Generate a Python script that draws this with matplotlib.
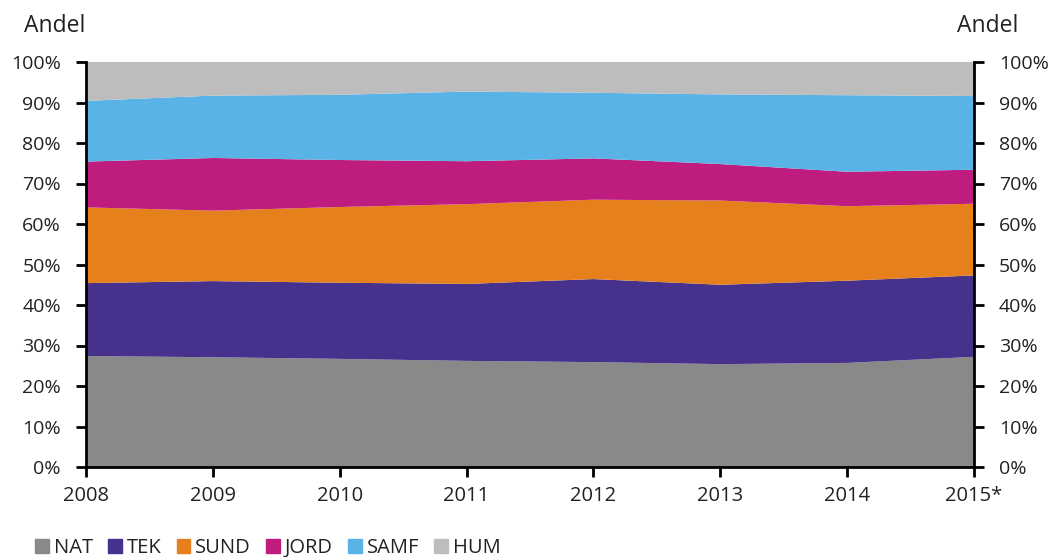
import numpy as np
import matplotlib
matplotlib.use("Agg")
import matplotlib.pyplot as plt
from matplotlib.patches import Patch
from matplotlib.ticker import PercentFormatter

years = ["2008", "2009", "2010", "2011", "2012", "2013", "2014", "2015*"]
fields = ["NAT", "TEK", "SUND", "JORD", "SAMF", "HUM"]

# shares in percent
nat = [27.4, 27.1, 26.7, 26.2, 25.9, 25.4, 25.7, 27.2]
tek = [18.0, 18.8, 18.8, 19.0, 20.5, 19.6, 20.3, 20.1]
sund = [18.7, 17.4, 18.7, 19.7, 19.6, 20.8, 18.4, 17.7]
jord = [11.3, 13.0, 11.6, 10.6, 10.2, 9.0, 8.5, 8.4]
samf = [15.0, 15.4, 16.1, 17.2, 16.2, 17.2, 18.9, 18.2]
hum = [9.6, 8.3, 8.1, 7.3, 7.6, 8.0, 8.2, 8.4]

colors = ["#898989", "#46328c", "#e5801c", "#be1c7e", "#5ab3e6", "#bdbdbd"]
txt = "#222222"

fig = plt.figure(figsize=(10.51, 5.57), dpi=100)
ax = fig.add_axes([86 / 1051, 1 - 467 / 557, (974 - 86) / 1051, (467 - 62) / 557])

x = np.arange(len(years))
ax.stackplot(x, nat, tek, sund, jord, samf, hum, colors=colors, linewidth=0)

ax.set_xlim(0, len(years) - 1)
ax.set_ylim(0, 100)
ax.set_xticks(x)
ax.set_xticklabels(years, fontsize=14.5, family="Open Sans")
ax.set_yticks(np.arange(0, 101, 10))
ax.yaxis.set_major_formatter(PercentFormatter(decimals=0))
for lab in ax.get_yticklabels():
    lab.set_family("Open Sans")
    lab.set_fontsize(14)

ax.spines["top"].set_visible(False)
ax.spines["right"].set_visible(False)
for s in ["left", "bottom"]:
    ax.spines[s].set_linewidth(2)
ax.tick_params(axis="both", width=2, length=7, colors="black", labelcolor=txt)
ax.tick_params(axis="x", pad=7)
ax.tick_params(axis="y", pad=11)

ax2 = ax.twinx()
ax2.set_ylim(0, 100)
ax2.set_yticks(np.arange(0, 101, 10))
ax2.yaxis.set_major_formatter(PercentFormatter(decimals=0))
for lab in ax2.get_yticklabels():
    lab.set_family("Open Sans")
    lab.set_fontsize(14)
for s in ["top", "left", "bottom"]:
    ax2.spines[s].set_visible(False)
ax2.spines["right"].set_linewidth(2)
ax2.tick_params(axis="y", width=2, length=7, pad=11, labelcolor=txt)

fig.text(24 / 1051, 1 - 26 / 557, "Andel", fontsize=16.5, family="Open Sans",
         va="center", ha="left", color=txt)
fig.text(1018 / 1051, 1 - 26 / 557, "Andel", fontsize=16.5, family="Open Sans",
         va="center", ha="right", color=txt)

handles = [Patch(color=c, label=f) for c, f in zip(colors, fields)]
fig.legend(handles=handles, loc="center left", bbox_to_anchor=(35 / 1051, 1 - 548 / 557),
           ncol=6, frameon=False, prop={"family": "Open Sans", "size": 14.5},
           handlelength=0.68, handleheight=0.68, handletextpad=0.25, columnspacing=0.75,
           borderpad=0, borderaxespad=0, labelcolor=txt)

fig.savefig("out.png", dpi=100)
